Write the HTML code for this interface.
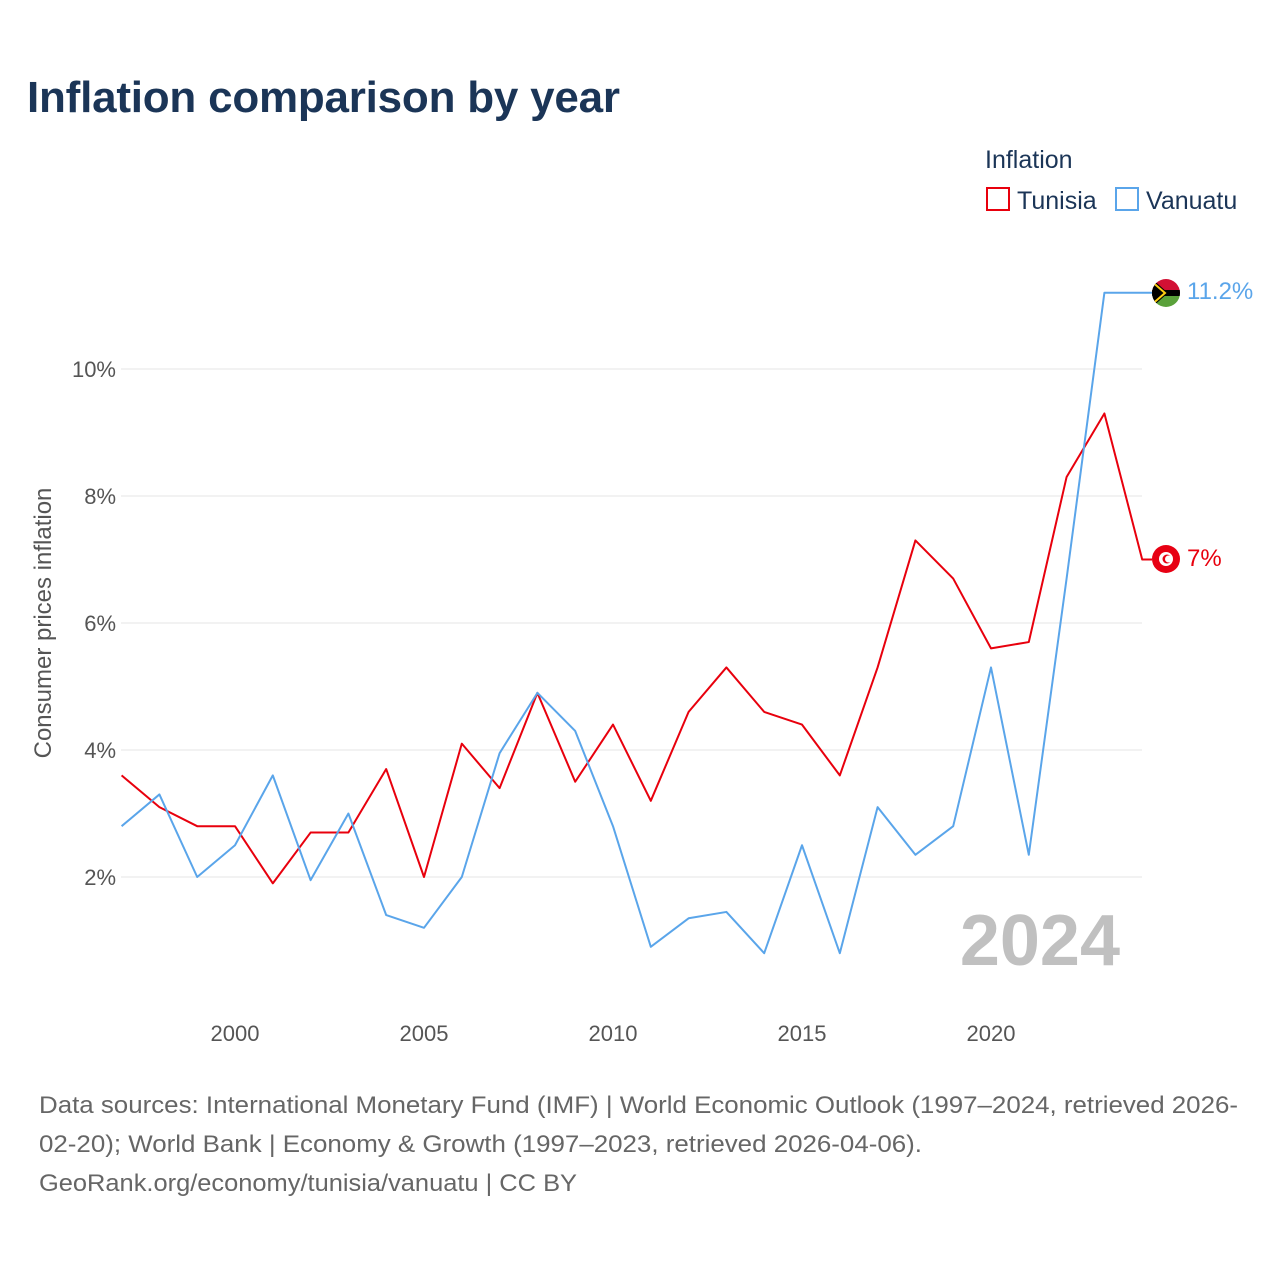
<!DOCTYPE html>
<html><head><meta charset="utf-8"><style>
body{margin:0;background:#fff;font-family:"Liberation Sans",sans-serif}
svg text{font-family:"Liberation Sans",sans-serif}
</style></head><body>
<svg width="1280" height="1280" xmlns="http://www.w3.org/2000/svg">
<text x="27" y="112" font-size="44" font-weight="bold" fill="#1b3557" textLength="593">Inflation comparison by year</text>
<text x="985" y="168" font-size="25" fill="#1b3557">Inflation</text>
<g><rect x="987" y="188" width="22" height="22" fill="none" stroke="#e8000d" stroke-width="2"/><text x="1017" y="209" font-size="25" fill="#1b3557">Tunisia</text></g>
<g><rect x="1116" y="188" width="22" height="22" fill="none" stroke="#5aa5ea" stroke-width="2"/><text x="1146" y="209" font-size="25" fill="#1b3557">Vanuatu</text></g>
<g id="grid"></g>
<g id="yticks"></g>
<g id="xticks"></g>
<text transform="translate(51,623) rotate(-90)" text-anchor="middle" font-size="24" fill="#555">Consumer prices inflation</text>
<text x="1120" y="965" text-anchor="end" font-size="72" font-weight="bold" fill="#c0c0c0">2024</text>
<g id="series"></g>
<g><clipPath id="cv"><circle cx="1166" cy="293" r="14"/></clipPath><g clip-path="url(#cv)"><rect x="1150" y="277" width="32" height="16" fill="#d21034"/><rect x="1150" y="293" width="32" height="16" fill="#5aa13a"/><rect x="1150" y="290" width="32" height="6" fill="#000"/><path d="M1150 277 L1168 293 L1150 309Z" fill="#000"/><path d="M1150 280 L1165 293 L1150 306" fill="none" stroke="#fdce12" stroke-width="2"/></g></g>
<g><circle cx="1166" cy="559" r="14" fill="#e70013"/><circle cx="1166" cy="559" r="7" fill="#fff"/><circle cx="1167" cy="559" r="4.5" fill="#e70013"/><circle cx="1168.5" cy="559" r="3.5" fill="#fff"/></g>
<text x="1187" y="299" font-size="24" fill="#5aa5ea">11.2%</text>
<text x="1187" y="566" font-size="24" fill="#e8000d">7%</text>
<g font-size="24" fill="#666">
<text x="39" y="1113" textLength="1199" lengthAdjust="spacingAndGlyphs">Data sources: International Monetary Fund (IMF) | World Economic Outlook (1997–2024, retrieved 2026-</text>
<text x="39" y="1152" textLength="883" lengthAdjust="spacingAndGlyphs">02-20); World Bank | Economy &amp; Growth (1997–2023, retrieved 2026-04-06).</text>
<text x="39" y="1191" textLength="538" lengthAdjust="spacingAndGlyphs">GeoRank.org/economy/tunisia/vanuatu | CC BY</text>
</g>
</svg>
<script>
const years=[1997,1998,1999,2000,2001,2002,2003,2004,2005,2006,2007,2008,2009,2010,2011,2012,2013,2014,2015,2016,2017,2018,2019,2020,2021,2022,2023,2024];
const tunisia=[3.6,3.1,2.8,2.8,1.9,2.7,2.7,3.7,2.0,4.1,3.4,4.9,3.5,4.4,3.2,4.6,5.3,4.6,4.4,3.6,5.3,7.3,6.7,5.6,5.7,8.3,9.3,7.0];
const vanuatu=[2.8,3.3,2.0,2.5,3.6,1.95,3.0,1.4,1.2,2.0,3.95,4.9,4.3,2.8,0.9,1.35,1.45,0.8,2.5,0.8,3.1,2.35,2.8,5.3,2.35,6.7,11.2];
const yTicks=[2,4,6,8,10];
const xTicks=[2000,2005,2010,2015,2020];
const NS="http://www.w3.org/2000/svg";
const x=v=>121.6+(v-1997)*37.8;
const y=v=>877-(v-2)*63.5;
function mk(t,a,p){const e=document.createElementNS(NS,t);for(const k in a)e.setAttribute(k,a[k]);p.appendChild(e);return e;}
const grid=document.getElementById('grid'),yt=document.getElementById('yticks'),xt=document.getElementById('xticks'),s=document.getElementById('series');
yTicks.forEach(v=>{
 const l=mk('line',{x1:121,x2:1142,y1:y(v),y2:y(v),stroke:'#e6e6e6','stroke-width':1},grid);
 
 
 const t=mk('text',{x:116,y:y(v)+8,'text-anchor':'end','font-size':22,fill:'#555'},yt);
 t.textContent=v+'%';
 
 
});
xTicks.forEach(v=>{
 const t=mk('text',{x:x(v),y:1041,'text-anchor':'middle','font-size':22,fill:'#555'},xt);
 t.textContent=v;
 
 
});
function line(vals,col,name,endX){
 let pts=vals.map((v,i)=>x(years[i])+','+y(v));
 const last=vals[vals.length-1];
 pts.push(endX+','+y(last));
 const p=mk('polyline',{points:pts.join(' '),fill:'none',stroke:col,'stroke-width':2,'stroke-linejoin':'round'},s);
 
 
}
line(tunisia,'#e8000d','tunisia-line',1152);
line(vanuatu,'#5aa5ea','vanuatu-line',1152);
</script>
</body></html>
